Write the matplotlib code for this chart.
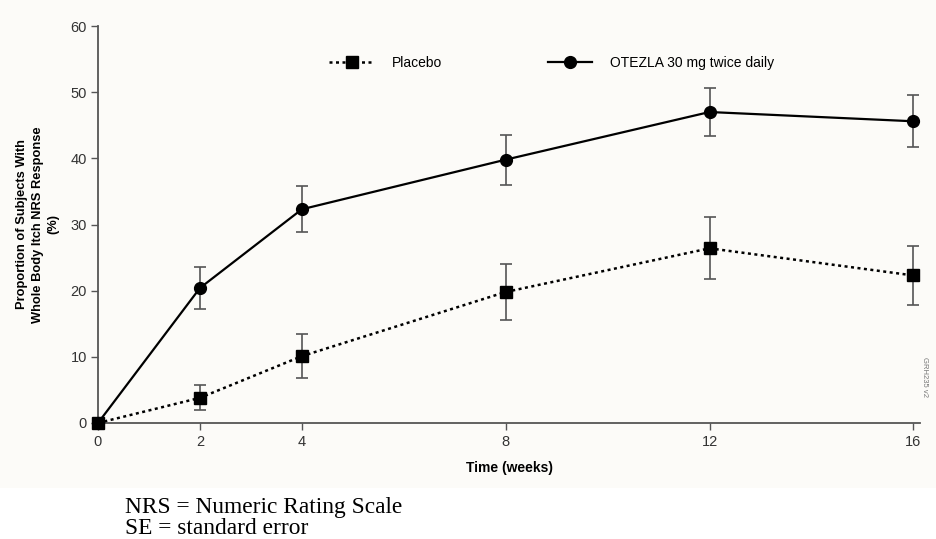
import matplotlib
matplotlib.use('Agg')
import matplotlib.pyplot as plt
from matplotlib.patches import Rectangle

weeks = [0, 2, 4, 8, 12, 16]
placebo = [0, 3.8, 10.1, 19.8, 26.4, 22.3]
placebo_se = [0, 1.9, 3.3, 4.2, 4.7, 4.5]
otezla = [0, 20.4, 32.3, 39.8, 47.0, 45.6]
otezla_se = [0, 3.2, 3.5, 3.8, 3.7, 3.9]
yticks = [0, 10, 20, 30, 40, 50, 60]

plt.rcParams['font.family'] = ['Liberation Sans', 'DejaVu Sans']

fig = plt.figure(figsize=(9.36, 5.39), dpi=100)
# cream panel behind the chart, white strip for the footnote
fig.patches.append(Rectangle((0, 51 / 539), 1, 1 - 51 / 539, transform=fig.transFigure,
                             facecolor='#fcfbf8', edgecolor='none', zorder=-10))
ax = fig.add_axes([98 / 936, 1 - 423 / 539, (920 - 98) / 936, (423 - 26) / 539])
ax.set_facecolor('none')

grey = '#555555'
ax.errorbar(weeks[1:], placebo[1:], yerr=placebo_se[1:], fmt='none', ecolor=grey,
            elinewidth=1.2, capsize=4.5, capthick=1.2, zorder=2)
ax.errorbar(weeks[1:], otezla[1:], yerr=otezla_se[1:], fmt='none', ecolor=grey,
            elinewidth=1.2, capsize=4.5, capthick=1.2, zorder=2)
ax.plot(weeks, placebo, color='black', linestyle=(0, (1.2, 1.4)), linewidth=1.8,
        marker='s', markersize=8, clip_on=False, zorder=3, label='Placebo')
ax.plot(weeks, otezla, color='black', linestyle='-', linewidth=1.6,
        marker='o', markersize=8.5, clip_on=False, zorder=4, label='OTEZLA 30 mg twice daily')

ax.set_xlim(0, 16.13)
ax.set_ylim(0, 60)
ax.set_xticks(weeks)
ax.set_yticks(yticks)
for s in ['top', 'right']:
    ax.spines[s].set_visible(False)
for s in ['left', 'bottom']:
    ax.spines[s].set_color(grey)
    ax.spines[s].set_linewidth(1.3)
ax.spines['left'].set_bounds(0, 60)
ax.tick_params(direction='out', length=5, width=1, color=grey, labelsize=10.5,
               labelcolor='#333333')
ax.tick_params(axis='y', pad=3)
ax.tick_params(axis='x', pad=4)

ax.set_xlabel('Time (weeks)', fontsize=10, fontweight='bold', labelpad=8)
ax.set_ylabel('Proportion of Subjects With\nWhole Body Itch NRS Response\n(%)',
              fontsize=9.3, fontweight='bold', labelpad=8, linespacing=1.4)

ax.legend(loc='upper center', bbox_to_anchor=(0.552, 0.957), ncol=2, frameon=False,
          fontsize=10, handlelength=3.2, columnspacing=7.6, handletextpad=1.3)

fig.text(0.988, 0.30, 'GRH235 v2', rotation=270, fontsize=5.5, color='#777777',
         ha='center', va='center')

fig.text(125 / 936, 1 - 507 / 539, 'NRS = Numeric Rating Scale', fontsize=16.8,
         family='Liberation Serif', va='center')
fig.text(125 / 936, 1 - 528 / 539, 'SE = standard error', fontsize=16.8,
         family='Liberation Serif', va='center')

fig.savefig('out.png', dpi=100)
